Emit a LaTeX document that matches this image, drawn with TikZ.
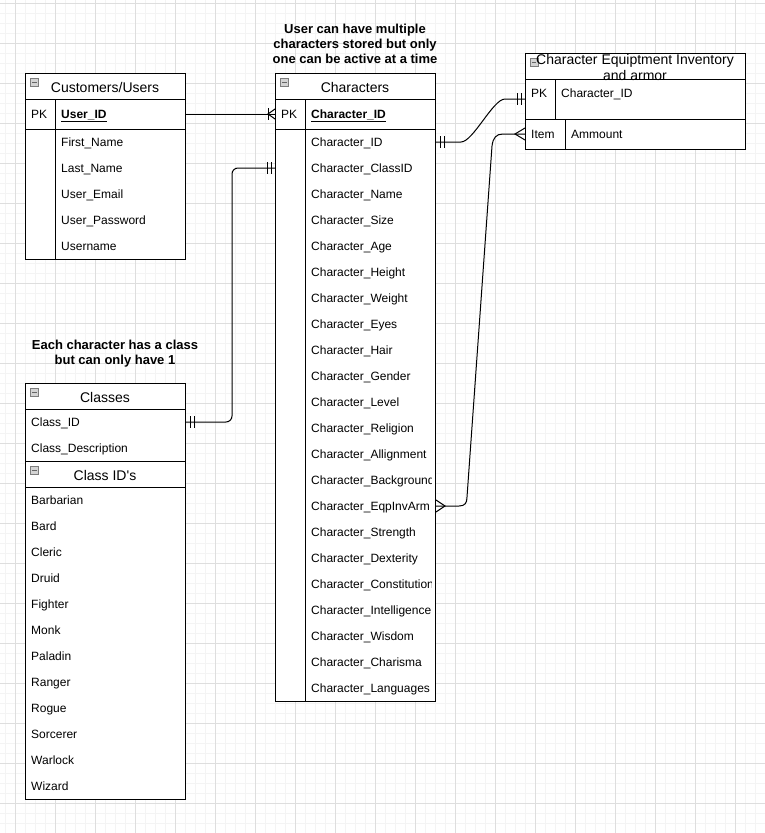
\documentclass[tikz,border=0pt]{standalone}
\usepackage{fontspec}
\setmainfont{Liberation Sans}
\usetikzlibrary{calc}
\definecolor{gmaj}{RGB}{222,222,222}
\definecolor{gmin}{RGB}{244,244,244}
\definecolor{icfill}{RGB}{212,212,212}
\definecolor{icdraw}{RGB}{125,125,125}
\begin{document}
\begin{tikzpicture}[x=1pt,y=-1pt,
  tbl/.style={draw=black,fill=white,line width=1pt,inner sep=0pt,anchor=north west},
  fld/.style={anchor=west,inner sep=0pt,font=\fontsize{12}{14}\selectfont,text height=8.6pt,text depth=0pt},
  pkfld/.style={fld,font=\bfseries\fontsize{12}{14}\selectfont},
  hdr/.style={inner sep=0pt,font=\fontsize{14}{16}\selectfont,text height=10pt,text depth=0pt},
  hdrbase/.style={inner sep=0pt,anchor=base,font=\fontsize{14}{16}\selectfont},
  note/.style={align=center,inner sep=0pt,font=\bfseries\fontsize{13}{15}\selectfont},
  sep/.style={line width=1pt,black},
  conn/.style={line width=1pt,black},
  iconbox/.style={draw=icdraw,fill=icfill,line width=0.8pt,minimum size=8pt,inner sep=0pt,
     path picture={\draw[black!60,line width=1pt] ([xshift=1.8pt]path picture bounding box.west) -- ([xshift=-1.8pt]path picture bounding box.east);}}
]
\useasboundingbox (0,0) rectangle (765,833);
\fill[white] (0,0) rectangle (765,833);
% grid
\foreach \x in {5,15,...,765} \draw[gmin,line width=1pt] (\x,0) -- (\x,833);
\foreach \y in {3,13,...,833} \draw[gmin,line width=1pt] (0,\y) -- (765,\y);
\foreach \x in {15,55,...,765} \draw[gmaj,line width=1pt] (\x,0) -- (\x,833);
\foreach \y in {3,43,...,833} \draw[gmaj,line width=1pt] (0,\y) -- (765,\y);

% tables
\node[tbl,minimum width=160pt,minimum height=186pt] (users) at (25,73) {};
\node[tbl,minimum width=160pt,minimum height=628pt] (chars) at (275,73) {};
\node[tbl,minimum width=220pt,minimum height=96pt] (equip) at (525,53) {};
\node[tbl,minimum width=160pt,minimum height=78pt] (classes) at (25,383) {};
\node[tbl,minimum width=160pt,minimum height=338pt] (classids) at (25,461) {};

% icons
\node[iconbox] (icu) at (34.5,82.5) {};
\node[iconbox] (icc) at (284.5,82.5) {};
\node[iconbox] (ice) at (534,62) {};
\node[iconbox] (iccl) at (34.5,392.5) {};
\node[iconbox] (icci) at (34.5,470.5) {};

% notes
\node[note] (note1) at (355,43.5) {User can have multiple\\characters stored but only\\one can be active at a time};
\node[note] (note2) at (115,354) {Each character has a class\\but can only have 1};

% users
\node[hdr] (uh) at (105,87) {Customers/Users};
\node[fld] (upkl) at (31,114) {PK};
\node[pkfld] (upk) at (61,114) {\underline{User\_ID}};
\foreach \t [count=\i] in {First\_Name,Last\_Name,User\_Email,User\_Password,Username}
  \node[fld] (u\i) at (61,{129+26*\i-13}) {\t};

% characters
\node[hdr] (ch) at (355,87) {Characters};
\node[fld] (cpkl) at (281,114) {PK};
\node[pkfld] (cpk) at (311,114) {\underline{Character\_ID}};
\begin{scope}
\clip (305,129) rectangle (431,701);
\foreach \t [count=\i] in {Character\_ID,Character\_ClassID,Character\_Name,Character\_Size,Character\_Age,Character\_Height,Character\_Weight,Character\_Eyes,Character\_Hair,Character\_Gender,Character\_Level,Character\_Religion,Character\_Allignment,Character\_Background,Character\_EqpInvArm,Character\_Strength,Character\_Dexterity,Character\_Constitution,Character\_Intelligence,Character\_Wisdom,Character\_Charisma,Character\_Languages}
  \node[fld] (c\i) at (311,{129+26*\i-13}) {\t};
\end{scope}

% equipment
\node[hdrbase] (eh1) at (635,64) {Character Equiptment Inventory};
\node[hdrbase] (eh2) at (635,80) {and armor};
\node[fld] (epkl) at (531,93) {PK};
\node[fld] (epk) at (561,93) {Character\_ID};
\node[fld] (eitem) at (531,134) {Item};
\node[fld] (eamt) at (571,134) {Ammount};

% classes
\node[hdr] (clh) at (105,397) {Classes};
\node[fld] (clid) at (31,422) {Class\_ID};
\node[fld] (cldesc) at (31,448) {Class\_Description};
\node[hdr] (cih) at (105,475) {Class ID\textquotesingle s};
\foreach \t [count=\i] in {Barbarian,Bard,Cleric,Druid,Fighter,Monk,Paladin,Ranger,Rogue,Sorcerer,Warlock,Wizard}
  \node[fld] (ci\i) at (31,{487+26*\i-13}) {\t};

% inner lines
\draw[sep] (25,99) -- (185,99) (25,129) -- (185,129) (55,99) -- (55,259);
\draw[sep] (275,99) -- (435,99) (275,129) -- (435,129) (305,99) -- (305,701);
\draw[sep] (525,79) -- (745,79) (525,119) -- (745,119) (555,79) -- (555,119) (565,119) -- (565,149);
\draw[sep] (25,409) -- (185,409);
\draw[sep] (25,487) -- (185,487);

% connector 1: users PK -> characters PK (one to many)
\draw[conn] (users.east |- upk) -- (chars.west |- cpk);
\draw[conn] ($(chars.west |- cpk)+(-7,-6)$) -- ($(chars.west |- cpk)+(-7,6)$);
\draw[conn] ($(chars.west |- cpk)+(0,-5)$) -- ($(chars.west |- cpk)+(-7,0)$) -- ($(chars.west |- cpk)+(0,5)$);

% connector 2: characters ClassID -> classes Class_ID (one to one)
\draw[conn,rounded corners=6pt] (chars.west |- c2) -| ($(classes.east |- clid)+(46,0)$) -- (classes.east |- clid);
\foreach \d in {4,8} {
  \draw[conn] ($(chars.west |- c2)+(-\d,-6)$) -- ($(chars.west |- c2)+(-\d,6)$);
  \draw[conn] ($(classes.east |- clid)+(\d,-6)$) -- ($(classes.east |- clid)+(\d,6)$);
}

% connector 3: characters Character_ID -> equipment PK (one to one)
\draw[conn] (chars.east |- c1) -- ($(chars.east |- c1)+(25,0)$)
  .. controls ($(chars.east |- c1)+(37,0)$) and ($(equip.west |- epk)+(-32,6)$) .. ($(equip.west |- epk)+(-20,6)$)
  -- ($(equip.west |- epk)+(0,6)$);
\foreach \d in {4,8} {
  \draw[conn] ($(chars.east |- c1)+(\d,-6)$) -- ($(chars.east |- c1)+(\d,6)$);
  \draw[conn] ($(equip.west |- epk)+(-\d,0)$) -- ($(equip.west |- epk)+(-\d,12)$);
}

% connector 4: characters EqpInvArm -> equipment Item (many to many)
\draw[conn] (chars.east |- c15) -- ($(chars.east |- c15)+(23,0)$)
  .. controls ($(chars.east |- c15)+(29,0)$) and ($(chars.east |- c15)+(31,-3)$) .. ($(chars.east |- c15)+(31,-9)$)
  -- ($(equip.west |- eitem)+(-33,12)$)
  .. controls ($(equip.west |- eitem)+(-32,4)$) and ($(equip.west |- eitem)+(-29,0)$) .. ($(equip.west |- eitem)+(-22,0)$)
  -- (equip.west |- eitem);
\draw[conn] ($(chars.east |- c15)+(0,-6)$) -- ($(chars.east |- c15)+(9,0)$) -- ($(chars.east |- c15)+(0,6)$);
\draw[conn] ($(equip.west |- eitem)+(0,-6)$) -- ($(equip.west |- eitem)+(-10,0)$) -- ($(equip.west |- eitem)+(0,6)$);
\end{tikzpicture}
\end{document}
